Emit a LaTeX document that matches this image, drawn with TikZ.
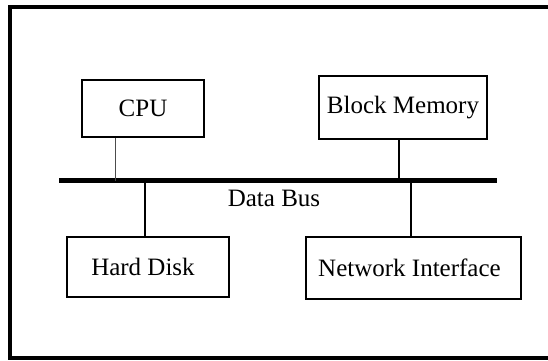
\documentclass[tikz,border=0pt]{standalone}
\usepackage{fontspec}
\setmainfont{Liberation Serif}
\usepackage{tikz}
\usetikzlibrary{positioning,calc}

\begin{document}
\begin{tikzpicture}[x=1pt, y=-1pt, every node/.style={font=\fontsize{25}{30}\selectfont},
  unit/.style={rectangle, draw, line width=1.6pt, inner sep=0pt, align=center},
  tap/.style={line width=1.3pt}]
\clip (0,0) rectangle (548,360);
% outer frame, runs off the right and bottom edges
\draw[line width=4pt] (10,7) rectangle (580,358);
% bus
\coordinate (busL) at (59,180.5);
\coordinate (busR) at (497,180.5);
\draw[line width=4.5pt] (busL) -- (busR);
\node (lbl) at (274,198) {Data Bus};
\node[unit, minimum width=122pt, minimum height=57pt] (cpu) at (143,108.5) {CPU};
\node[unit, minimum width=168pt, minimum height=63pt] (mem) at (403,107.5) {Block Memory};
\node[unit, minimum width=162pt, minimum height=60pt] (hd) at (148,267) {\hspace*{-10pt}Hard Disk};
\node[unit, minimum width=215pt, minimum height=62pt] (net) at (413.5,268) {\hspace*{-8pt}Network Interface};
\draw[line width=0.9pt, black!70] ([xshift=-28pt]cpu.south) -- ([xshift=-28pt]cpu.south |- busL);
\draw[tap] ([xshift=-4pt]mem.south) -- ([xshift=-4pt]mem.south |- busL);
\draw[tap] ([xshift=-3pt]hd.north) -- ([xshift=-3pt]hd.north |- busL);
\draw[tap] ([xshift=-2.5pt]net.north) -- ([xshift=-2.5pt]net.north |- busL);
\end{tikzpicture}
\end{document}
